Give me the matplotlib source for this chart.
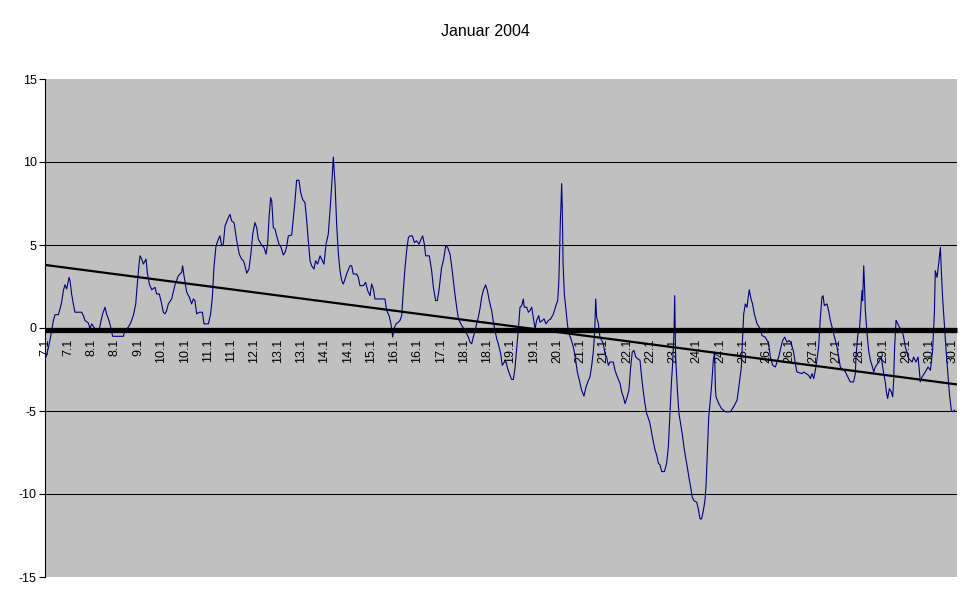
import matplotlib
matplotlib.use("Agg")
import matplotlib.pyplot as plt
import numpy as np

plt.rcParams['font.family'] = ['Liberation Sans', 'DejaVu Sans']

title = "Januar 2004"

# time in hours since 7.1 00:00, and measured values
hours = [0.0, 1.1, 2.1, 3.2, 4.2, 5.3, 6.3, 8.4, 9.5, 10.5, 11.6, 12.6, 13.7, 15.2, 15.8, 16.8, 17.9, 18.9,
         23.2, 24.2, 25.3, 27.4, 28.4, 29.5, 31.6, 34.3, 35.2, 36.4, 37.9, 38.9, 40.4, 41.5, 42.7, 49.5,
         50.5, 52.6, 54.1, 55.8, 57.3, 58.3, 59.4, 60.0, 61.1, 62.1, 63.8, 64.6, 65.9, 67.4, 69.5, 70.5,
         72.2, 73.7, 74.7, 75.8, 76.8, 77.9, 80.0, 82.1, 84.2, 86.3, 86.9, 87.8, 89.5, 91.2, 92.6, 93.7,
         94.7, 95.8, 97.5, 99.4, 100.4, 103.2, 104.6, 105.7, 106.7, 108.0, 109.5, 110.5, 111.6, 112.6,
         113.7, 115.8, 116.8, 117.9, 119.4, 121.1, 122.7, 124.2, 125.3, 126.3, 127.4, 128.8, 129.9,
         131.2, 132.6, 133.7, 134.7, 136.8, 138.3, 139.6, 140.6, 141.5, 142.5, 143.2, 144.2, 145.3,
         146.3, 147.8, 149.1, 150.5, 151.6, 152.6, 153.7, 155.8, 156.8, 157.9, 158.9, 160.4, 161.5,
         162.7, 164.2, 165.3, 166.3, 167.4, 168.4, 169.9, 170.9, 172.2, 173.7, 175.2, 176.2, 177.5,
         178.9, 180.0, 181.1, 182.1, 183.2, 184.2, 185.3, 186.3, 187.4, 188.4, 189.5, 190.5, 192.6,
         193.7, 194.7, 196.8, 197.9, 198.9, 201.1, 202.5, 203.8, 205.3, 206.3, 207.4, 208.4, 214.7,
         215.8, 217.3, 218.5, 219.6, 220.4, 221.7, 223.2, 224.2, 225.3, 226.3, 227.4, 228.4, 229.5,
         230.5, 232.0, 233.3, 234.7, 236.2, 237.5, 238.5, 239.6, 240.4, 242.7, 244.2, 245.3, 246.7,
         247.8, 248.8, 250.5, 251.6, 253.1, 254.3, 255.8, 256.8, 257.9, 258.9, 260.0, 261.1, 263.2,
         265.3, 267.4, 268.4, 269.5, 270.5, 271.6, 272.6, 273.7, 274.7, 275.8, 276.8, 278.3, 279.4,
         280.6, 282.1, 283.2, 284.2, 285.3, 286.3, 287.8, 288.8, 290.1, 291.2, 292.2, 293.3, 294.7,
         295.8, 296.8, 297.9, 298.9, 300.0, 301.1, 302.1, 302.7, 304.2, 305.3, 306.3, 307.4, 308.4,
         309.5, 310.5, 311.8, 312.6, 314.1, 315.2, 316.4, 317.9, 319.4, 321.1, 322.7, 323.8, 324.4,
         324.8, 325.5, 325.9, 326.3, 326.7, 327.2, 328.0, 329.1, 329.9, 330.9, 332.2, 333.7, 334.7,
         336.2, 337.5, 338.9, 340.4, 341.7, 343.2, 344.2, 345.3, 346.3, 347.2, 347.8, 348.4, 349.5,
         350.5, 351.6, 352.6, 353.7, 354.7, 355.8, 356.8, 358.9, 360.0, 361.5, 363.2, 364.2, 365.3,
         366.3, 367.4, 368.8, 369.9, 370.9, 372.0, 373.1, 374.3, 375.8, 376.8, 377.9, 378.9, 380.0,
         381.1, 382.1, 383.2, 384.2, 385.3, 386.3, 387.4, 388.4, 389.5, 391.2, 392.6, 393.7, 394.7,
         395.6, 396.4, 397.3, 397.7, 398.3, 399.4, 400.4, 401.5, 402.5, 403.6, 404.6, 405.7, 406.7,
         407.8, 408.8, 409.9, 411.6, 412.6, 413.7, 414.7, 415.8, 416.8, 417.5, 418.3, 419.2, 420.0,
         421.1, 422.1, 422.9, 423.4, 423.8, 425.5, 427.2, 429.7, 432.8, 434.9, 437.1, 438.5, 439.8,
         440.6, 441.3, 442.3, 443.4, 444.0, 444.8, 445.9, 446.9, 448.0, 449.7, 451.8, 452.8, 454.9,
         457.1, 458.1, 459.6, 461.3, 462.3, 463.4, 464.8, 465.9, 467.2, 468.6, 470.1, 471.4, 472.8,
         473.9, 474.9, 478.1, 479.2, 482.3, 483.4, 484.4, 485.5, 486.9, 488.6, 489.7, 490.7, 491.4,
         492.2, 493.9, 494.9, 496.0, 497.1, 498.1, 499.2, 500.2, 501.3, 502.3, 504.4, 505.5, 507.6,
         508.6, 510.7, 511.8, 512.2, 513.3, 514.5, 515.2, 516.0, 516.4, 517.1, 517.7, 518.1, 519.2,
         520.2, 521.3, 522.3, 523.4, 524.4, 526.5, 528.2, 529.1, 529.7, 530.7, 531.4, 532.2, 533.3,
         534.5, 535.4, 536.0, 536.6, 537.5, 538.1, 539.6, 541.3, 542.3, 543.4, 545.5, 547.6, 548.6,
         550.1, 551.4, 552.2, 552.8, 553.9, 556.0, 557.7, 559.2, 560.6, 561.7, 562.3, 563.4, 564.4,
         565.5, 566.1, 566.9, 568.0, 569.1, 570.1, 571.2, 572.4, 573.3, 574.5]

values = [-1.9, -1.6, -1.2, -0.7, -0.15, 0.45, 0.8, 0.8, 1.15, 1.55, 2.25, 2.6, 2.35, 3.05, 2.85, 2.05, 1.45, 0.95,
          0.95, 0.75, 0.45, 0.3, -0.05, 0.25, -0.05, -0.05, 0.35, 0.85, 1.25, 0.85, 0.45, 0.05, -0.5, -0.5,
          -0.15, 0.05, 0.3, 0.75, 1.45, 2.65, 3.85, 4.35, 4.15, 3.85, 4.15, 3.35, 2.65, 2.3, 2.45, 2.05,
          2.05, 1.45, 0.95, 0.85, 1.05, 1.45, 1.75, 2.6, 3.15, 3.35, 3.75, 3.15, 2.15, 1.85, 1.45, 1.75,
          1.65, 0.85, 0.95, 0.95, 0.25, 0.25, 0.85, 1.85, 3.65, 4.95, 5.35, 5.55, 4.95, 5.05,
          6.15, 6.65, 6.85, 6.45, 6.35, 5.25, 4.45, 4.15, 4.05, 3.75, 3.3, 3.55, 4.35,
          5.65, 6.35, 6.05, 5.35, 5.0, 4.85, 4.45, 5.05, 6.65, 7.85, 7.65, 6.05, 5.95,
          5.55, 5.05, 4.85, 4.4, 4.55, 4.9, 5.55, 5.6, 6.55, 7.65, 8.9, 8.9, 8.15,
          7.75, 7.55, 6.45, 5.25, 4.05, 3.75, 3.55, 4.05, 3.85, 4.35, 4.05, 3.85, 5.05,
          5.65, 7.05, 8.65, 10.3, 8.65, 6.25, 4.45, 3.45, 2.85, 2.65, 2.95, 3.25, 3.75,
          3.75, 3.25, 3.25, 3.05, 2.55, 2.55, 2.75, 2.25, 1.95, 2.65, 2.35, 1.75, 1.75,
          1.05, 0.75, 0.25, -0.55, -0.05, 0.25, 0.35, 0.45, 0.75, 2.25, 3.65, 4.65, 5.45,
          5.55, 5.55, 5.15, 5.25, 5.05, 5.35, 5.55, 5.05, 4.35, 4.35, 3.45, 2.45, 1.65,
          1.65, 2.25, 3.65, 4.05, 4.95, 4.85, 4.45, 3.75, 2.85, 2.05, 1.25, 0.55, 0.15,
          -0.15, -0.55, -0.85, -0.95, -0.55, -0.15, 0.25, 0.65, 1.15, 1.85, 2.25, 2.6, 2.25,
          1.65, 1.05, 0.35, -0.15, -0.65, -0.95, -1.55, -2.25, -2.05, -2.05, -2.45, -2.75, -3.1,
          -3.1, -2.45, -1.25, -0.15, 1.25, 1.35, 1.75, 1.25, 1.25, 0.95, 1.05, 1.25, 0.65,
          -0.05, 0.45, 0.75, 0.35, 0.45, 0.55, 0.25, 0.45, 0.55, 0.85, 1.35, 1.65, 2.55,
          3.75, 6.5, 7.4, 8.7, 7.3, 3.9, 2.05, 1.05, 0.25, -0.35, -0.65, -1.15, -1.65,
          -2.65, -3.15, -3.75, -4.1, -3.55, -3.15, -2.95, -2.25, -1.45, -0.15, 1.75, 0.65, 0.25,
          -0.55, -0.75, -0.95, -1.55, -1.75, -2.25, -2.05, -2.05, -2.55, -2.95, -3.35, -3.85, -4.15,
          -4.55, -4.25, -3.75, -2.35, -1.45, -1.35, -1.75, -1.85, -1.95, -2.95, -3.85, -4.55, -5.15,
          -5.45, -5.75, -6.35, -6.85, -7.35, -7.65, -8.15, -8.25, -8.65, -8.65, -8.15, -7.15, -5.15,
          -3.35, -2.15, -0.15, 1.95, -1.75, -3.75, -5.15, -5.8, -6.4, -7.2, -7.8, -8.4, -9.0,
          -9.6, -10.2, -10.4, -10.5, -10.9, -11.5, -11.5, -11.0, -10.4, -9.5, -7.55, -5.35, -4.55,
          -3.35, -1.95, -1.45, -3.6, -4.15, -4.55, -4.85, -5.05, -5.05, -4.75, -4.35, -3.35, -2.35,
          -0.55, 0.85, 1.45, 1.25, 1.75, 2.3, 1.75, 1.45, 0.85, 0.25, -0.05, -0.45, -0.55,
          -0.95, -1.75, -2.25, -2.35, -2.05, -1.75, -1.15, -0.75, -0.55, -0.85, -0.75, -0.95, -1.45,
          -2.15, -2.65, -2.75, -2.65, -2.85, -3.05, -2.75, -3.05, -2.35, -1.15, 0.65, 1.85, 1.95,
          1.35, 1.45, 1.05, 0.45, 0.05, -0.35, -0.75, -1.15, -1.75, -2.35, -2.55, -2.65, -3.05,
          -3.25, -3.25, -2.75, -1.75, -0.45, 0.05, 1.05, 2.25, 1.65, 3.75, 2.25, 1.05, -0.35,
          -1.35, -1.95, -2.25, -2.65, -2.35, -2.05, -1.75, -2.35, -2.75, -3.25, -3.85, -4.25, -3.65,
          -3.85, -4.15, -3.15, -1.15, 0.45, 0.35, 0.05, -0.15, -0.55, -1.15, -1.85, -2.05, -1.75,
          -2.05, -1.75, -2.55, -3.25, -2.95, -2.65, -2.35, -2.55, -1.35, 0.85, 3.45, 3.05, 3.85,
          4.85, 3.45, 1.85, 0.25, -1.35, -2.55, -3.95, -4.95, -5.05, -4.95]

# linear trend (start / end values)
trend_hours = [0.0, 576.0]
trend_values = [3.8, -3.4]

tick_labels = ["7.1", "7.1", "8.1", "8.1", "9.1", "10.1", "10.1", "11.1", "11.1", "12.1",
               "13.1", "13.1", "14.1", "14.1", "15.1", "16.1", "16.1", "17.1", "18.1", "18.1",
               "19.1", "19.1", "20.1", "21.1", "21.1", "22.1", "22.1", "23.1", "24.1", "24.1",
               "25.1", "26.1", "26.1", "27.1", "27.1", "28.1", "29.1", "29.1", "30.1", "30.1"]
tick_step_hours = 14.7

y_ticks = [-15, -10, -5, 0, 5, 10, 15]
grid_values = [-10, -5, 5, 10]

fig = plt.figure(figsize=(9.70, 6.03), dpi=100)
fig.patch.set_facecolor('white')
ax = fig.add_axes([45/970, 1 - 577/603, (957-45)/970, (577-79)/603])
ax.set_facecolor('#C0C0C0')

for g in grid_values:
    ax.axhline(g, color='black', linewidth=0.75, zorder=1)

ax.plot(hours, values, color='#000080', linewidth=0.8, zorder=3)
ax.plot(trend_hours, trend_values, color='black', linewidth=1.6, zorder=4)

ax.set_xlim(0, 576)
ax.set_ylim(-15, 15)

ax.spines['top'].set_visible(False)
ax.spines['right'].set_visible(False)
ax.spines['bottom'].set_position(('data', -0.12))
ax.spines['bottom'].set_linewidth(3.8)
ax.spines['bottom'].set_color('black')
ax.spines['bottom'].set_capstyle('butt')
ax.spines['bottom'].set_zorder(3.5)
ax.spines['left'].set_linewidth(0.8)
ax.spines['left'].set_color('black')

ax.set_yticks(y_ticks)
ax.set_yticklabels([str(v) for v in y_ticks])
ax.tick_params(axis='y', direction='out', length=4, width=0.8, labelsize=9, pad=2, colors='black')

xt = np.arange(len(tick_labels)) * tick_step_hours
ax.set_xticks(xt)
ax.set_xticklabels(tick_labels, rotation=90, va='top', ha='center')
ax.tick_params(axis='x', length=0, labelsize=9, pad=6, colors='black')

fig.text(0.5, 1 - 31/603, title, ha='center', va='center', fontsize=11.5)

fig.savefig('out.png', dpi=100, facecolor='white')
